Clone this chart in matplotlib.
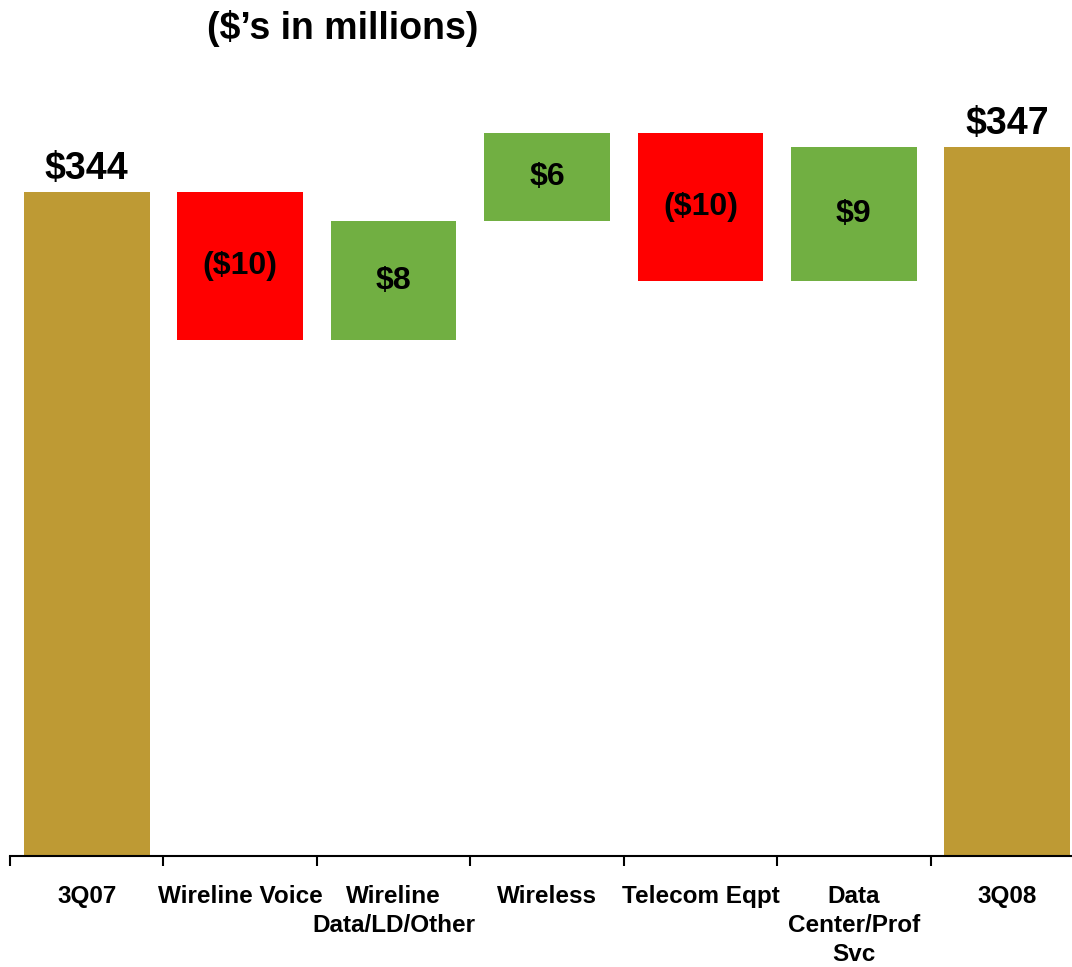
import numpy as np
import matplotlib
matplotlib.use('Agg')
import matplotlib.pyplot as plt

plt.rcParams['font.family'] = ['Liberation Sans', 'DejaVu Sans']
plt.rcParams['font.weight'] = 'bold'

# revenue bridge, $ millions
categories = ['3Q07', 'Wireline Voice', 'Wireline\nData/LD/Other', 'Wireless',
              'Telecom Eqpt', 'Data\nCenter/Prof\nSvc', '3Q08']
start_total = 344
changes = [-10, 8, 6, -10, 9]
end_total = 347

gold = '#BE9A34'
red = '#FF0000'
green = '#71AF42'

fig = plt.figure(figsize=(10.72, 9.67), dpi=100)
W, H = 1072, 967
ax = fig.add_axes([10 / W, (H - 856) / H, 1074 / W, 753 / H])

x = np.arange(len(categories))
bw = 0.82

# totals
ax.bar(x[0], start_total, width=bw, color=gold, bottom=0)
ax.bar(x[-1], end_total, width=bw, color=gold, bottom=0)
ax.text(x[0], start_total + 0.35, f'${start_total}', ha='center', va='bottom',
        fontsize=27, fontweight='bold')
ax.text(x[-1], end_total + 0.35, f'${end_total}', ha='center', va='bottom',
        fontsize=27, fontweight='bold')

# floating change bars
level = start_total
for i, d in enumerate(changes):
    lo = min(level, level + d)
    col = green if d > 0 else red
    ax.bar(x[i + 1], abs(d), width=bw, bottom=lo, color=col)
    lbl = f'${d}' if d > 0 else f'(${-d})'
    ax.text(x[i + 1], lo + abs(d) / 2, lbl, ha='center', va='center',
            fontsize=23, fontweight='bold')
    level += d

ax.set_ylim(299.1, 350)
ax.set_xlim(-0.5, len(categories) - 0.5)

for s in ['top', 'right', 'left']:
    ax.spines[s].set_visible(False)
ax.spines['bottom'].set_linewidth(1.5)
ax.set_yticks([])

ax.set_xticks(x)
ax.set_xticklabels(categories, fontsize=17.5, fontweight='bold', linespacing=1.32)
ax.set_xticks(np.arange(-0.5, len(categories)), minor=True)
ax.tick_params(axis='x', which='major', length=0, pad=21)
ax.tick_params(axis='x', which='minor', length=7, width=1.5, direction='out')

fig.text(343 / W, 1 - 39 / H, "($\u2019s in millions)", ha='center', va='baseline',
         fontsize=27, fontweight='bold')

fig.savefig('out.png', dpi=100)
